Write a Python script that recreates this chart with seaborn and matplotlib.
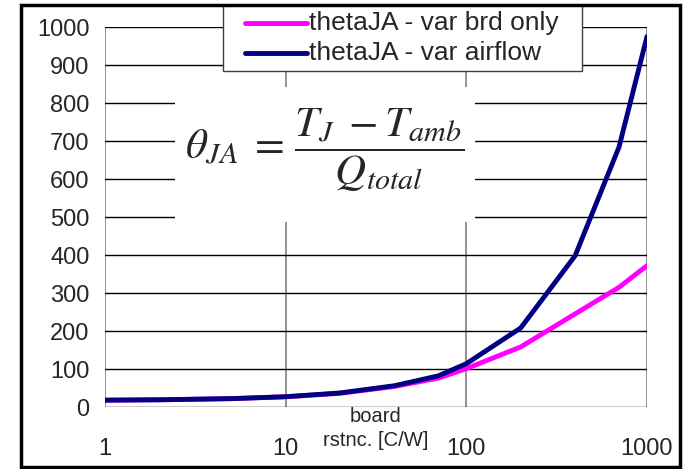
import matplotlib
matplotlib.use("Agg")
import matplotlib.pyplot as plt
import seaborn as sns
import pandas as pd
from matplotlib.patches import Rectangle
from matplotlib.lines import Line2D

# Data
board_rstnc = [1, 2, 5, 10, 20, 40, 70, 100, 200, 400, 700, 1000]
theta_brd_only = [18, 19, 22, 27, 36, 54, 76, 101, 158, 245, 315, 372]
theta_airflow = [18, 19, 22, 27, 37, 56, 82, 114, 208, 398, 684, 975]
series_names = ["thetaJA - var brd only", "thetaJA - var airflow"]
series_colors = ["#FF00FF", "#000080"]
y_ticks = [0, 100, 200, 300, 400, 500, 600, 700, 800, 900, 1000]
x_ticks = [1, 10, 100, 1000]
x_tick_labels = ["1", "10", "100", "1000"]

df = pd.DataFrame({
    "x": board_rstnc * 2,
    "y": theta_brd_only + theta_airflow,
    "series": [series_names[0]] * len(board_rstnc) + [series_names[1]] * len(board_rstnc),
})

sns.set_style("white")
plt.rcParams["font.family"] = ["Liberation Sans", "DejaVu Sans"]
plt.rcParams["mathtext.fontset"] = "stix"

W, H = 687, 469
fig = plt.figure(figsize=(W / 100, H / 100), dpi=100)
ax = fig.add_axes([105 / W, 1 - 407 / H, 542 / W, 380 / H])

sns.lineplot(data=df, x="x", y="y", hue="series",
             palette=dict(zip(series_names, series_colors)),
             linewidth=3.5, ax=ax, legend=False, zorder=3)

ax.set_xscale("log")
ax.set_xlim(1, 1000)
ax.set_ylim(0, 1000)
ax.set_yticks(y_ticks)
ax.set_yticklabels([str(v) for v in y_ticks], fontsize=17)
ax.set_xticks(x_ticks)
ax.set_xticklabels(x_tick_labels, fontsize=17)
ax.xaxis.set_minor_locator(matplotlib.ticker.NullLocator())

for s in ax.spines.values():
    s.set_visible(False)

ax.yaxis.grid(True, color="black", linewidth=1)
ax.xaxis.grid(True, color="#808080", linewidth=1.2)
ax.set_axisbelow(True)
ax.tick_params(axis="y", length=8, width=1, color="black", pad=3)
ax.tick_params(axis="x", length=8, width=1.2, color="#808080", pad=14)
ax.set_ylabel("")
ax.set_xlabel("board\nrstnc. [C/W]", fontsize=14.5, linespacing=1.3)
ax.xaxis.set_label_coords(0.5, -0.001, transform=ax.transAxes)
ax.xaxis.label.set_verticalalignment("top")

# White box behind equation
ax.add_patch(Rectangle((70 / 542, 185 / 380), 300 / 542, 135 / 380,
                       transform=ax.transAxes, facecolor="white",
                       edgecolor="none", zorder=1))
# Equation
ax.text(0.405, 0.674,
        r"$\theta_{JA}\;=\,\dfrac{T_J\;-T_{amb}}{Q_{total}}$",
        transform=ax.transAxes, ha="center", va="center", fontsize=31,
        zorder=5)

# Legend (drawn in figure pixel coordinates)
def fx(px):
    return px / W

def fy(py):
    return 1 - py / H

fig.patches.append(Rectangle((fx(223), fy(71)), (582 - 223) / W, (71 - 5) / H,
                             transform=fig.transFigure, facecolor="white",
                             edgecolor="#404040", linewidth=1, zorder=10))
for name, color, yrow in zip(series_names, series_colors, [23, 53]):
    fig.lines.append(Line2D([fx(245), fx(307)], [fy(yrow), fy(yrow)],
                            transform=fig.transFigure, color=color,
                            linewidth=3.5, zorder=11))
    fig.text(fx(309), fy(yrow), name, fontsize=19, ha="left", va="center",
             zorder=12)

# Figure border
fig.patches.append(Rectangle((21 / W, 2 / H), 659 / W, 462 / H,
                             transform=fig.transFigure, fill=False,
                             edgecolor="black", linewidth=2.5, zorder=20))

fig.savefig("out.png", dpi=100)
